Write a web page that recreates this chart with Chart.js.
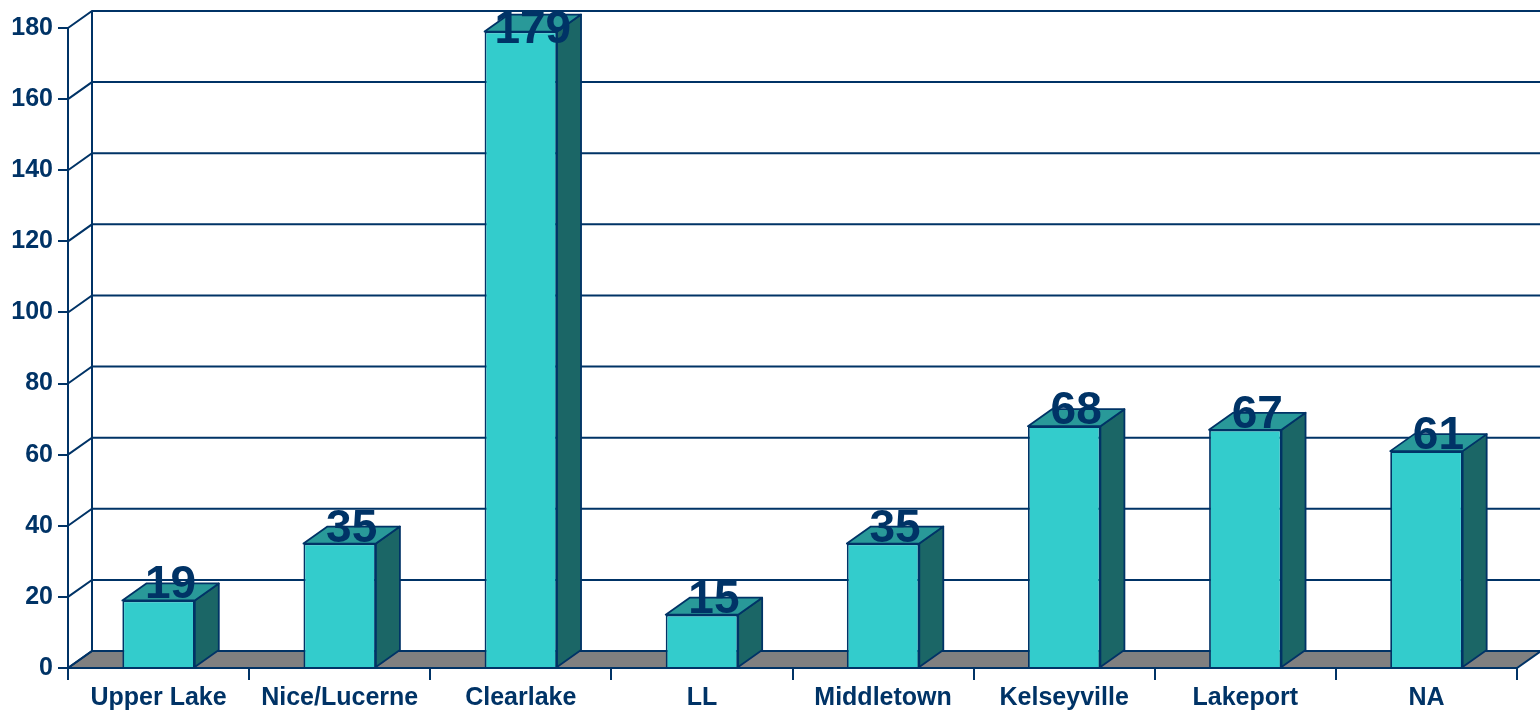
<!DOCTYPE html>
<html><head><meta charset="utf-8">
<script src="https://cdn.jsdelivr.net/npm/chart.js@4.4.1/dist/chart.umd.min.js"></script>
<style>html,body{margin:0;padding:0;background:#fff}canvas{display:block}</style>
</head>
<body>
<canvas id="c" width="1540" height="712"></canvas>
<script>
const categories = ['Upper Lake', 'Nice/Lucerne', 'Clearlake', 'LL', 'Middletown', 'Kelseyville', 'Lakeport', 'NA'];
const counts = [19, 35, 179, 15, 35, 68, 67, 61];
const yTicks = [0, 20, 40, 60, 80, 100, 120, 140, 160, 180];

const NAVY = '#003366';
const DX = 24, DY = 17;
const FONT = '"Liberation Sans", Arial, sans-serif';

const threeD = {
  id: 'threeD',
  beforeDatasetsDraw(chart) {
    const {ctx, chartArea: a, scales: {y}} = chart;
    ctx.save();
    ctx.strokeStyle = NAVY;
    ctx.lineWidth = 2;
    const y0 = y.getPixelForValue(0);
    // floor
    ctx.fillStyle = '#808080';
    ctx.beginPath();
    ctx.moveTo(a.left, y0); ctx.lineTo(a.right, y0);
    ctx.lineTo(a.right + DX, y0 - DY); ctx.lineTo(a.left + DX, y0 - DY);
    ctx.closePath(); ctx.fill(); ctx.stroke();
    // back wall gridlines + side wall diagonals
    yTicks.forEach(v => {
      const py = y.getPixelForValue(v);
      ctx.beginPath();
      ctx.moveTo(a.left, py); ctx.lineTo(a.left + DX, py - DY); ctx.lineTo(chart.width, py - DY);
      ctx.stroke();
    });
    ctx.beginPath();
    ctx.moveTo(a.left + DX, y.getPixelForValue(yTicks[yTicks.length - 1]) - DY);
    ctx.lineTo(a.left + DX, y0 - DY);
    ctx.stroke();
    // front axis line
    ctx.beginPath();
    ctx.moveTo(a.left, y.getPixelForValue(yTicks[yTicks.length - 1]));
    ctx.lineTo(a.left, y0);
    ctx.stroke();
    ctx.restore();
  },
  afterDatasetsDraw(chart) {
    const {ctx} = chart;
    const meta = chart.getDatasetMeta(0);
    ctx.save();
    ctx.strokeStyle = NAVY;
    ctx.lineWidth = 1.8;
    ctx.lineJoin = 'round';
    meta.data.forEach((el, i) => {
      const p = el.getProps(['x', 'y', 'base', 'width'], true);
      const l = p.x - p.width / 2, r = p.x + p.width / 2, t = p.y, b = p.base;
      // side
      ctx.fillStyle = '#1B6666';
      ctx.beginPath();
      ctx.moveTo(r, t); ctx.lineTo(r + DX, t - DY); ctx.lineTo(r + DX, b - DY); ctx.lineTo(r, b);
      ctx.closePath(); ctx.fill(); ctx.stroke();
      // top
      ctx.fillStyle = '#299999';
      ctx.beginPath();
      ctx.moveTo(l, t); ctx.lineTo(l + DX, t - DY); ctx.lineTo(r + DX, t - DY); ctx.lineTo(r, t);
      ctx.closePath(); ctx.fill(); ctx.stroke();
    });
    // value labels
    ctx.fillStyle = NAVY;
    ctx.font = 'bold 46px ' + FONT;
    ctx.textAlign = 'center';
    ctx.textBaseline = 'alphabetic';
    meta.data.forEach((el, i) => {
      const p = el.getProps(['x', 'y'], true);
      const base = Math.max(p.y - 2, 43);
      ctx.fillText(String(counts[i]), p.x + DX / 2, base);
    });
    ctx.restore();
  }
};

new Chart(document.getElementById('c'), {
  type: 'bar',
  data: {
    labels: categories,
    datasets: [{
      data: counts,
      backgroundColor: '#33CCCC',
      borderColor: NAVY,
      borderWidth: 1.8,
      categoryPercentage: 1,
      barPercentage: 0.4
    }]
  },
  options: {
    responsive: false,
    animation: false,
    layout: {padding: {top: 28, right: 23, left: 0, bottom: 0}},
    plugins: {legend: {display: false}, tooltip: {enabled: false}},
    scales: {
      y: {
        min: 0, max: 180,
        ticks: {stepSize: 20, color: NAVY, font: {family: FONT, size: 25, weight: 'bold'}, padding: 5},
        grid: {display: true, drawOnChartArea: false, drawTicks: true, tickLength: 10, color: NAVY, lineWidth: 2},
        border: {display: true, color: NAVY, width: 2},
        afterFit(s) { s.width = 68; }
      },
      x: {
        ticks: {color: NAVY, font: {family: FONT, size: 25, weight: 'bold'}, padding: 3, maxRotation: 0, autoSkip: false},
        grid: {display: true, offset: true, drawOnChartArea: false, drawTicks: true, tickLength: 12, color: NAVY, lineWidth: 2},
        border: {display: true, color: NAVY, width: 2},
        afterFit(s) { s.height = 44; }
      }
    }
  },
  plugins: [threeD]
});
</script>
</body></html>
